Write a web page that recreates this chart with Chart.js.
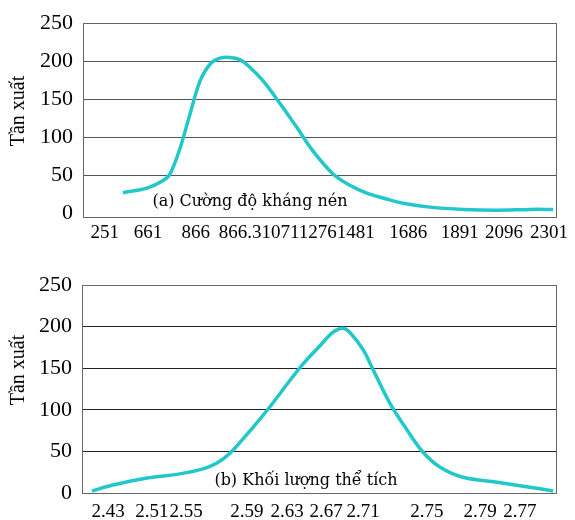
<!DOCTYPE html>
<html><head><meta charset="utf-8">
<script src="https://cdn.jsdelivr.net/npm/chart.js@4.4.1/dist/chart.umd.min.js"></script>
<style>
html,body{margin:0;padding:0;background:#fff;}
#wrap{position:relative;width:575px;height:520px;}
.box{position:absolute;left:0;width:575px;}
</style></head><body>
<div id="wrap">
<div class="box" style="top:0;height:260px"><canvas id="c1" width="575" height="260"></canvas></div>
<div class="box" style="top:250px;height:270px"><canvas id="c2" width="575" height="270"></canvas></div>
</div>
<script>
// ---- data ----
const freqTicks = [0, 50, 100, 150, 200, 250];
const yTitle = 'Tần xuất';

// (a) compressive strength — x positions are fractions (0..100) along the axis
const strengthTickPos = [4.6, 13.7, 23.8, 45.1, 68.6, 79.5, 88.8, 98.3];
const strengthTickLabels = ['251', '661', '866', '866.3107112761481', '1686', '1891', '2096', '2301'];
const strengthX    = [8.4, 13.5, 16.9, 18.4, 20.5, 22.6, 24.7, 26.8, 28.9, 31.0, 33.1, 35.2, 38.0, 41.6, 45.1, 48.5, 52.7, 56.5, 60.0, 63.3, 67.5, 73.2, 80.2, 87.3, 94.3, 99.2];
const strengthFreq = [27, 33, 43, 52, 86, 131, 174, 196, 204, 205, 202, 192, 174, 144, 113, 82, 52, 36, 26, 20, 13, 8, 5, 4, 5, 5];
const strengthNote = '(a) Cường độ kháng nén';

// (b) unit weight
const densityTickPos = [5.5, 14.7, 21.9, 34.7, 43.2, 51.4, 59.2, 72.6, 83.8, 92.2];
const densityTickLabels = ['2.43', '2.51', '2.55', '2.59', '2.63', '2.67', '2.71', '2.75', '2.79', '2.77'];
const densityX    = [2.1, 6.5, 13.7, 20.6, 25.5, 28.4, 31.2, 36.0, 39.6, 43.2, 46.5, 50.1, 52.8, 54.9, 56.4, 59.2, 61.3, 64.8, 68.4, 71.8, 75.4, 80.2, 87.4, 94.3, 99.2];
const densityFreq = [2.4, 9.6, 18, 23, 29, 36, 48, 79, 104, 131, 155, 177, 193, 198, 193, 172, 148, 108, 76, 49, 31, 19, 13, 7, 2.4];
const densityNote = '(b) Khối lượng thể tích';

// ---- drawing ----
const CURVE = '#22c7c9';
const SERIF = '"Liberation Serif", "Times New Roman", serif';

const framePlugin = {
  id: 'frame',
  beforeDatasetsDraw(chart, args, o) {
    const {ctx, chartArea: a} = chart;
    ctx.save();
    ctx.strokeStyle = o.color;
    ctx.lineWidth = 1;
    ctx.strokeRect(Math.round(a.left) + 0.5, Math.round(a.top) + 0.5,
                   Math.round(a.right - a.left) - 1, Math.round(a.bottom - a.top));
    ctx.restore();
  },
  afterDraw(chart, args, o) {
    const {ctx} = chart;
    ctx.save();
    ctx.fillStyle = '#000';
    ctx.textAlign = 'center';
    ctx.textBaseline = 'middle';
    ctx.font = o.noteFont;
    ctx.fillText(o.note, o.noteX, o.noteY);
    ctx.translate(o.titleX, o.titleY);
    ctx.rotate(-Math.PI / 2);
    ctx.font = o.titleFont;
    ctx.fillText(o.title, 0, 0);
    ctx.restore();
  }
};

function makeChart(id, xs, ys, tickPos, tickLabels, yMin, axisW, xAxisH, pad, note, noteX, noteY, titleY, xPad, gridColor) {
  return new Chart(document.getElementById(id), {
    type: 'line',
    data: {
      datasets: [{
        data: xs.map((x, i) => ({x: x, y: ys[i]})),
        borderColor: CURVE,
        borderWidth: 3.5,
        pointRadius: 0,
        tension: 0.35,
        fill: false
      }]
    },
    options: {
      responsive: false,
      animation: false,
      layout: {padding: pad},
      plugins: {
        legend: {display: false},
        tooltip: {enabled: false},
        frame: {
          color: '#666',
          note: note, noteX: noteX, noteY: noteY,
          noteFont: '16px "DejaVu Serif", serif',
          title: yTitle, titleX: 19, titleY: titleY,
          titleFont: '20px ' + SERIF
        }
      },
      scales: {
        x: {
          type: 'linear', min: 0, max: 100,
          grid: {display: false, drawTicks: false, tickLength: 0},
          border: {display: false},
          afterBuildTicks: s => { s.ticks = tickPos.map(v => ({value: v})); },
          afterFit: s => { s.height = xAxisH; },
          ticks: {
            autoSkip: false, maxRotation: 0, minRotation: 0, padding: xPad,
            color: '#000', font: {family: SERIF, size: 19},
            callback: (v, i) => tickLabels[i]
          }
        },
        y: {
          type: 'linear', min: yMin, max: 250,
          afterBuildTicks: s => { s.ticks = freqTicks.map(v => ({value: v})); },
          afterFit: s => { s.width = axisW; },
          grid: {
            drawTicks: false, tickLength: 0, lineWidth: 1,
            color: c => (c.tick && c.tick.value === 0) ? 'rgba(0,0,0,0)' : gridColor
          },
          border: {display: false},
          ticks: {
            padding: 10, color: '#000', font: {family: SERIF, size: 22},
            callback: v => String(v)
          }
        }
      }
    },
    plugins: [framePlugin]
  });
}

makeChart('c1', strengthX, strengthFreq, strengthTickPos, strengthTickLabels,
  -5, 83, 40, {top: 22, right: 18, bottom: 3, left: 0},
  strengthNote, 250, 202, 111, 5, '#555');
makeChart('c2', densityX, densityFreq, densityTickPos, densityTickLabels,
  0, 82, 27, {top: 35, right: 18, bottom: 0, left: 0},
  densityNote, 306, 231, 120, 8, '#222');
</script>
</body></html>
